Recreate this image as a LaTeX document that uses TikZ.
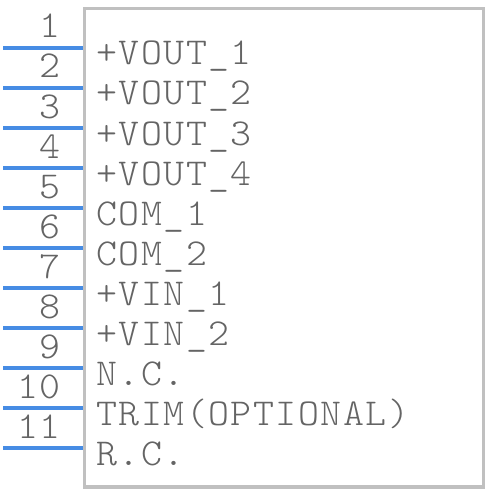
\documentclass[tikz,border=0pt]{standalone}
\usepackage{fontspec}
\newfontfamily\pinfont{lmmonolt10-regular.otf}[FakeStretch=1.05,LetterSpace=4]
\definecolor{pinblue}{RGB}{70,140,228}
\definecolor{boxgray}{RGB}{192,192,192}
\definecolor{txtgray}{RGB}{100,100,100}
\begin{document}
\begin{tikzpicture}[x=1pt,y=-1pt,
  pinline/.style={draw=pinblue,line width=3.5pt},
  pinnum/.style={anchor=base east,inner sep=0pt,text=txtgray,font=\fontsize{38}{38}\selectfont\pinfont},
  pinlabel/.style={anchor=base west,inner sep=0pt,text=txtgray,font=\fontsize{38}{38}\selectfont\pinfont}]
\useasboundingbox (0,0) rectangle (488,492);
\draw[draw=boxgray,line width=3.5pt] (84.5,8.5) rectangle (483.5,487);
\foreach \i/\lab in {1/+VOUT\_1,2/+VOUT\_2,3/+VOUT\_3,4/+VOUT\_4,5/COM\_1,6/COM\_2,7/+VIN\_1,8/+VIN\_2,9/N.C.,10/TRIM(OPTIONAL),11/R.C.}{
  \coordinate (p\i) at (3,{48+40*(\i-1)});
  \coordinate (q\i) at (83,{48+40*(\i-1)});
  \draw[pinline] (p\i) -- (q\i);
  \node[pinnum] (n\i) at (61,{38+40*(\i-1)}) {\i};
  \node[pinlabel] (l\i) at (96,{65+40*(\i-1)}) {\lab};
}
\end{tikzpicture}
\end{document}
